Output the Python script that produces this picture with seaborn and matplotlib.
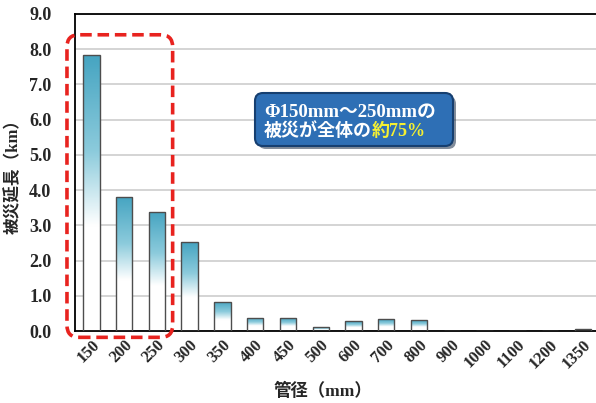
import numpy as np
import pandas as pd
import matplotlib
matplotlib.use("Agg")
import matplotlib.pyplot as plt
import seaborn as sns
from matplotlib.patches import FancyBboxPatch
from matplotlib.colors import LinearSegmentedColormap
from matplotlib.transforms import IdentityTransform

# 管径ごとの被災延長 (km)
diameters = ["150", "200", "250", "300", "350", "400", "450", "500",
             "600", "700", "800", "900", "1000", "1100", "1200", "1350"]
lengths_km = [7.84, 3.81, 3.39, 2.52, 0.83, 0.38, 0.36, 0.11,
              0.28, 0.33, 0.30, 0.0, 0.01, 0.0, 0.0, 0.05]
y_ticks = [0, 1, 2, 3, 4, 5, 6, 7, 8, 9]

sns.set_theme(style="white")
plt.rcParams["font.family"] = ["Liberation Serif", "Noto Sans CJK JP", "DejaVu Sans"]

fig = plt.figure(figsize=(5.96, 4.03), dpi=100)
ax = fig.add_axes([75 / 596, 72 / 403, 1 - 75 / 596, 317 / 403])

df = pd.DataFrame({"管径": diameters, "延長": lengths_km})
sns.barplot(data=df, x="管径", y="延長", width=0.5, color="#4aa9c4",
            edgecolor="#4d4d4d", linewidth=1.0, ax=ax, zorder=3)

ax.set_xlim(-0.5, 15.4)
ax.set_ylim(0, 9)
ax.set_yticks(y_ticks)
ax.set_yticklabels([f"{v:.1f}" for v in y_ticks])
ax.grid(axis="y", color="#d4d4d4", linewidth=1.4, zorder=0)
ax.grid(axis="x", visible=False)

for side in ["left", "bottom", "top"]:
    ax.spines[side].set_color("black")
    ax.spines[side].set_linewidth(1.3)
ax.spines["right"].set_visible(False)

ax.tick_params(axis="y", length=0, pad=17)
ax.tick_params(axis="x", length=0, pad=4)
for lab in ax.get_yticklabels():
    lab.set_fontsize(13)
    lab.set_fontweight("bold")
for lab in ax.get_xticklabels():
    lab.set_fontsize(12)
    lab.set_fontweight("bold")
    lab.set_rotation(45)
    lab.set_ha("right")
    lab.set_rotation_mode("anchor")

ax.set_ylabel("被災延長（km）", fontsize=12, fontweight="bold", labelpad=5)
ax.set_xlabel("管径（mm）", fontsize=12.5, fontweight="bold")
ax.xaxis.set_label_coords(0.476, -0.165)

# vertical teal-to-white gradient inside every bar
grad_cmap = LinearSegmentedColormap.from_list(
    "bar_grad", [(0.0, "#45a4c1"), (0.35, "#8ccbdc"), (0.62, "#ffffff"), (1.0, "#ffffff")])
grad = np.linspace(0, 1, 256).reshape(-1, 1)
for patch in ax.patches:
    x0, y0 = patch.get_x(), patch.get_y()
    w, h = patch.get_width(), patch.get_height()
    if h <= 0:
        continue
    im = ax.imshow(grad, cmap=grad_cmap, aspect="auto",
                   extent=[x0, x0 + w, y0, y0 + h], origin="upper", zorder=2.5)
    im.set_clip_path(patch)
    patch.set_facecolor("none")
ax.set_xlim(-0.5, 15.4)
ax.set_ylim(0, 9)

# red dashed frame around 150-250 mm
p0 = ax.transData.transform((-0.745, -0.18))
p1 = ax.transData.transform((2.48, 8.41))
frame = FancyBboxPatch((p0[0], p0[1]), p1[0] - p0[0], p1[1] - p0[1],
                       boxstyle="round,pad=0,rounding_size=12",
                       transform=IdentityTransform(), fill=False,
                       edgecolor="#e8231f", linewidth=2.6, linestyle=(0, (3.2, 1.6)),
                       zorder=6, clip_on=False)
fig.add_artist(frame)

# callout box
bx0, by0, bx1, by1 = 255, 403 - 146, 453, 403 - 93
shadow = FancyBboxPatch((bx0 + 3, by0 - 3), bx1 - bx0, by1 - by0,
                        boxstyle="round,pad=0,rounding_size=8",
                        transform=IdentityTransform(), facecolor="#1b2f4a",
                        edgecolor="none", alpha=0.55, zorder=7)
fig.add_artist(shadow)
box = FancyBboxPatch((bx0, by0), bx1 - bx0, by1 - by0,
                     boxstyle="round,pad=0,rounding_size=8",
                     transform=IdentityTransform(), facecolor="#2e6fb5",
                     edgecolor="#163f70", linewidth=1.5, zorder=8)
fig.add_artist(box)

fig.text(264 / 596, 1 - 112 / 403, "Φ150mm～250mmの", color="white",
         fontsize=13.5, fontweight="bold", va="center", ha="left", zorder=9)
t2 = fig.text(264 / 596, 1 - 131 / 403, "被災が全体の", color="white",
              fontsize=13, fontweight="bold", va="center", ha="left", zorder=9)
fig.canvas.draw()
ext = t2.get_window_extent(renderer=fig.canvas.get_renderer())
fig.text(ext.x1 / fig.bbox.width, 1 - 131 / 403, "約75%", color="#f5f032",
         fontsize=13, fontweight="bold", va="center", ha="left", zorder=9)

fig.savefig("out.png", dpi=100)
